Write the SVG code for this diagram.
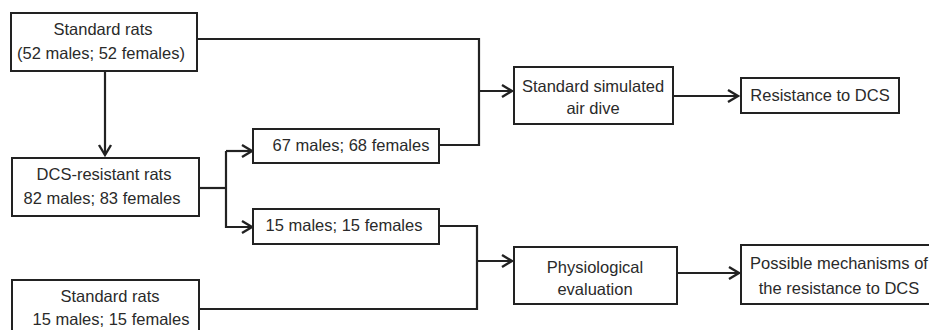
<svg xmlns="http://www.w3.org/2000/svg" width="929" height="330" viewBox="0 0 929 330">
<style>
.box{fill:#fff;stroke:#222;stroke-width:2}
.t{font-family:"Liberation Sans",Arial,sans-serif;font-size:16.5px;fill:#2a2a2a;text-anchor:middle}
.c{fill:none;stroke:#222;stroke-width:2.2}
.a{marker-end:url(#arr)}
</style>
<defs>
<marker id="arr" markerUnits="userSpaceOnUse" markerWidth="16" markerHeight="16" viewBox="-12 -8 14 16" refX="0" refY="0" orient="auto">
<path d="M-10,-6 L0,0 L-10,6" fill="none" stroke="#222" stroke-width="2.4"/>
</marker>
</defs>
<g id="connectors">
<path class="c a" d="M105,71 V155"/>
<path class="c" d="M197,39 H479 V145 H439"/>
<path class="c a" d="M479,91 H512"/>
<path class="c a" d="M673,96 H738"/>
<path class="c" d="M199,188 H226"/>
<path class="c a" d="M226,151 V227 H252"/>
<path class="c a" d="M226,151 H252"/>
<path class="c" d="M439,226 H477 V309 H199"/>
<path class="c a" d="M477,261 H512"/>
<path class="c a" d="M677,273 H739"/>
</g>
<g id="n1"><rect class="box" x="11" y="13" width="186" height="58"/><text class="t" x="103" y="35">Standard rats</text><text class="t" x="101" y="59">(52 males; 52 females)</text></g>
<g id="n2"><rect class="box" x="12" y="158" width="187" height="58"/><text class="t" x="104" y="180">DCS-resistant rats</text><text class="t" x="102" y="204">82 males; 83 females</text></g>
<g id="n3"><rect class="box" x="12" y="280" width="187" height="60"/><text class="t" x="110" y="302">Standard rats</text><text class="t" x="111" y="325">15 males; 15 females</text></g>
<g id="n4"><rect class="box" x="253" y="129" width="186" height="34"/><text class="t" x="351" y="151">67 males; 68 females</text></g>
<g id="n5"><rect class="box" x="253" y="209" width="186" height="35"/><text class="t" x="344" y="231">15 males; 15 females</text></g>
<g id="n6"><rect class="box" x="514" y="67" width="159" height="57"/><text class="t" x="593" y="92">Standard simulated</text><text class="t" x="593" y="114">air dive</text></g>
<g id="n7"><rect class="box" x="514" y="247" width="163" height="57"/><text class="t" x="595" y="273">Physiological</text><text class="t" x="595" y="295">evaluation</text></g>
<g id="n8"><rect class="box" x="741" y="78" width="158" height="35"/><text class="t" x="820" y="101">Resistance to DCS</text></g>
<g id="n9"><rect class="box" x="741" y="245" width="196" height="59"/><text class="t" x="839" y="269">Possible mechanisms of</text><text class="t" x="839" y="294">the resistance to DCS</text></g>
</svg>
